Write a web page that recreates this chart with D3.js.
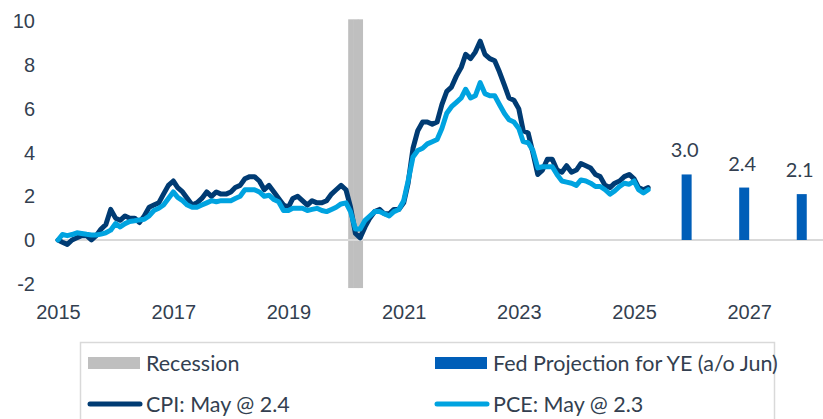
<!DOCTYPE html>
<html>
<head>
<meta charset="utf-8">
<script src="https://cdn.jsdelivr.net/npm/d3@7"></script>
<style>
  body { margin: 0; background: #fff; }
  svg { display: block; font-family: Lato, 'Open Sans', sans-serif; }
  .tick text { fill: #333f50; font-size: 20px; }
  .legend-label { fill: #333f50; font-size: 21.5px; }
  .bar-label { fill: #333f50; font-size: 20px; }
</style>
</head>
<body>
<div id="viz"></div>
<script>
// monthly y/y inflation, Feb 2015 - May 2025
const firstMonth = new Date(2015, 1, 1);
const lastMonth = new Date(2025, 4, 1);

const cpi = [
  0.0, -0.1, -0.2, 0.0, 0.1, 0.2, 0.2, 0.0, 0.2, 0.5, 0.7,
  1.4, 1.0, 0.9, 1.1, 1.0, 1.0, 0.8, 1.1, 1.5, 1.6, 1.7, 2.1,
  2.5, 2.7, 2.4, 2.2, 1.9, 1.6, 1.7, 1.9, 2.2, 2.0, 2.2, 2.1,
  2.1, 2.2, 2.4, 2.5, 2.8, 2.9, 2.9, 2.7, 2.3, 2.5, 2.2, 1.9,
  1.6, 1.5, 1.9, 2.0, 1.8, 1.6, 1.8, 1.7, 1.7, 1.8, 2.1, 2.3,
  2.5, 2.3, 1.5, 0.3, 0.1, 0.6, 1.0, 1.3, 1.4, 1.2, 1.2, 1.4,
  1.4, 1.7, 2.6, 4.2, 5.0, 5.4, 5.4, 5.3, 5.4, 6.2, 6.8, 7.0,
  7.5, 7.9, 8.5, 8.3, 8.6, 9.1, 8.5, 8.3, 8.2, 7.7, 7.1, 6.5,
  6.4, 6.0, 5.0, 4.9, 4.0, 3.0, 3.2, 3.7, 3.7, 3.2, 3.1, 3.4,
  3.1, 3.2, 3.5, 3.4, 3.3, 3.0, 2.9, 2.5, 2.4, 2.6, 2.7, 2.9,
  3.0, 2.8, 2.4, 2.3, 2.4
];

const pce = [
  0.0, 0.25, 0.2, 0.25, 0.33, 0.3, 0.26, 0.23, 0.23, 0.27, 0.33,
  0.45, 0.75, 0.6, 0.75, 0.85, 0.88, 0.92, 0.95, 1.1, 1.35, 1.45, 1.6,
  1.9, 2.2, 1.95, 1.8, 1.6, 1.5, 1.5, 1.6, 1.7, 1.8, 1.75, 1.8,
  1.8, 1.8, 1.9, 2.0, 2.3, 2.3, 2.3, 2.2, 2.0, 2.05, 1.85, 1.75,
  1.35, 1.35, 1.45, 1.45, 1.45, 1.35, 1.4, 1.45, 1.35, 1.3, 1.4, 1.5,
  1.65, 1.7, 1.3, 0.5, 0.5, 0.9, 1.1, 1.3, 1.3, 1.2, 1.1, 1.3,
  1.4, 1.8, 2.7, 3.8, 4.1, 4.2, 4.4, 4.5, 4.6, 5.1, 5.8, 6.1,
  6.3, 6.5, 6.9, 6.5, 6.6, 7.2, 6.7, 6.6, 6.6, 6.2, 5.8, 5.5,
  5.4, 5.1, 4.5, 4.45, 4.1, 3.3, 3.35, 3.35, 3.35, 3.0, 2.7, 2.65,
  2.6, 2.5, 2.75, 2.7, 2.6, 2.45, 2.45, 2.3, 2.1, 2.25, 2.45, 2.6,
  2.55, 2.7, 2.3, 2.15, 2.3
];

// Fed SEP median PCE, year end
const fedDates = ['2025-12-31', '2026-12-31', '2027-12-31'];
const fedValues = [3.0, 2.4, 2.1];

const recessionMonths = ['2020-03-01', '2020-04-01', '2020-05-01'];
const recessionRange = [-2.2, 10.1];

const yTicks = [-2, 0, 2, 4, 6, 8, 10];
const xTickYears = [2015, 2017, 2019, 2021, 2023, 2025, 2027];

const legendItems = [
  { name: 'Recession', type: 'rect', color: '#bfbfbf' },
  { name: 'Fed Projection for YE (a/o Jun)', type: 'rect', color: '#005eb8' },
  { name: 'CPI: May @ 2.4', type: 'line', color: '#003b73' },
  { name: 'PCE: May @ 2.3', type: 'line', color: '#00a3e0' }
];

const canvasWidth = 823;
const canvasHeight = 419;
const parse = d3.timeParse('%Y-%m-%d');

const months = d3.timeMonth.range(firstMonth, d3.timeMonth.offset(lastMonth, 1));
const cpiData = months.map((m, i) => ({ date: m, value: cpi[i] }));
const pceData = months.map((m, i) => ({ date: m, value: pce[i] }));

const x = d3.scaleTime()
  .domain([new Date(2015, 1, 1), new Date(2028, 1, 1)])
  .range([58, 58 + 13 * 57.6]);

const y = d3.scaleLinear()
  .domain([-2, 10])
  .range([240 + 2 * 21.85, 240 - 10 * 21.85]);

const canvas = d3.select('#viz')
  .append('svg')
  .attr('width', canvasWidth)
  .attr('height', canvasHeight);

// recession shading, one column per month
const halfMonthBack = (d) => d3.timeDay.offset(d, -15);

canvas.append('g')
  .selectAll('rect').data(recessionMonths.map(parse))
  .enter().append('rect')
    .attr('x', (d) => x(halfMonthBack(d)))
    .attr('width', (d) => x(d3.timeMonth.offset(halfMonthBack(d), 1)) - x(halfMonthBack(d)) + 0.5)
    .attr('y', y(recessionRange[1]))
    .attr('height', y(recessionRange[0]) - y(recessionRange[1]))
    .attr('fill', '#bfbfbf');

// zero line
canvas.append('line')
  .attr('x1', 55)
  .attr('x2', canvasWidth)
  .attr('y1', y(0))
  .attr('y2', y(0))
  .attr('stroke', '#d9d9d9')
  .attr('stroke-width', 2);

// fed projection bars
const fed = fedDates.map((d, i) => ({ date: parse(d), value: fedValues[i] }));
const barWidth = 10;

canvas.append('g')
  .selectAll('rect').data(fed)
  .enter().append('rect')
    .attr('x', (d) => x(d.date) - barWidth / 2)
    .attr('y', (d) => y(d.value))
    .attr('width', barWidth)
    .attr('height', (d) => y(0) - y(d.value))
    .attr('fill', '#005eb8');

canvas.append('g')
  .selectAll('text').data(fed)
  .enter().append('text')
    .attr('class', 'bar-label')
    .attr('x', (d) => x(d.date) - 2)
    .attr('y', (d) => y(d.value) - 17)
    .attr('text-anchor', 'middle')
    .text((d) => d.value.toFixed(1));

// lines
const line = d3.line()
  .x((d) => x(d.date))
  .y((d) => y(d.value));

canvas.append('path')
  .datum(cpiData)
  .attr('d', line)
  .attr('fill', 'none')
  .attr('stroke', '#003b73')
  .attr('stroke-width', 5)
  .attr('stroke-linejoin', 'round')
  .attr('stroke-linecap', 'round');

canvas.append('path')
  .datum(pceData)
  .attr('d', line)
  .attr('fill', 'none')
  .attr('stroke', '#00a3e0')
  .attr('stroke-width', 5)
  .attr('stroke-linejoin', 'round')
  .attr('stroke-linecap', 'round');

// axes
canvas.append('g')
  .attr('transform', 'translate(38, 0)')
  .call(d3.axisLeft(y).tickValues(yTicks).tickSize(0).tickPadding(3).tickFormat((d) => String(d)))
  .call((g) => g.select('.domain').remove())
  .selectAll('text').attr('font-family', null).attr('font-size', null);

canvas.append('g')
  .attr('transform', 'translate(0, 305)')
  .call(d3.axisBottom(x)
    .tickValues(xTickYears.map((yr) => new Date(yr, 1, 1)))
    .tickSize(0).tickPadding(0)
    .tickFormat(d3.timeFormat('%Y')))
  .call((g) => g.select('.domain').remove())
  .selectAll('text').attr('font-family', null).attr('font-size', null);

// legend
canvas.append('rect')
  .attr('x', 80.5)
  .attr('y', 342.5)
  .attr('width', 694)
  .attr('height', 100)
  .attr('fill', '#fff')
  .attr('stroke', '#d9d9d9')
  .attr('stroke-width', 1.5);

const legend = canvas.append('g')
  .selectAll('g').data(legendItems)
  .enter().append('g')
    .attr('transform', (d, i) => `translate(${i % 2 === 0 ? 88 : 435}, ${i < 2 ? 363 : 404})`);

legend.filter((d) => d.type === 'rect').append('rect')
  .attr('x', 0)
  .attr('y', -6)
  .attr('width', 52)
  .attr('height', 12)
  .attr('fill', (d) => d.color);

legend.filter((d) => d.type === 'line').append('line')
  .attr('x1', 2)
  .attr('x2', 52)
  .attr('stroke', (d) => d.color)
  .attr('stroke-width', 5)
  .attr('stroke-linecap', 'round');

legend.append('text')
  .attr('class', 'legend-label')
  .attr('x', 58)
  .attr('y', 7.5)
  .text((d) => d.name);
</script>
</body>
</html>
